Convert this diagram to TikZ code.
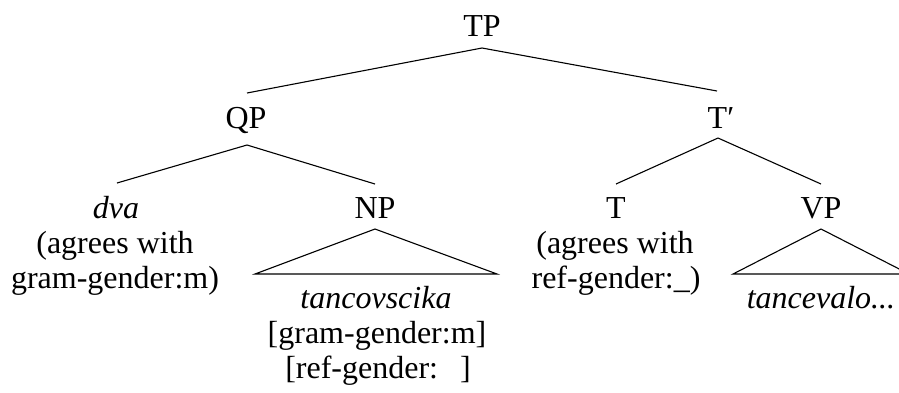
\documentclass[tikz,border=0pt]{standalone}
\usepackage{fontspec}
\setmainfont{Liberation Serif}
\newfontfamily\tnr{Liberation Serif}
\usetikzlibrary{calc}
\begin{document}
\begin{tikzpicture}[x=1pt,y=-1pt,
  lab/.style={font=\tnr\fontsize{32}{35}\selectfont, inner sep=0pt, anchor=base},
  edge/.style={line width=1.1pt}]
\useasboundingbox (0,0) rectangle (899,392);
\clip (0,0) rectangle (899,392);
% level 0-1
\node[lab] (TP) at (482,36) {TP};
\node[lab] (QP) at (246,128) {QP};
\node[lab] (Tbar) at (721,128) {T′};
% level 2
\node[lab] (dva) at (116,218) {\itshape dva};
\node[lab] (dva1) at (115,253) {(agrees with};
\node[lab] (dva2) at (115,288) {gram-gender:m)};
\node[lab] (NP) at (375,218) {NP};
\node[lab] (np1) at (376,308) {\itshape tancovscika};
\node[lab] (np2) at (377,343) {[gram-gender:m]};
\node[lab] (np3) at (378,378) {[ref-gender:\hspace{22pt}]};
\node[lab] (T) at (616,218) {T};
\node[lab] (t1) at (615,253) {(agrees with};
\node[lab] (t2) at (616,288) {ref-gender:\_)};
\node[lab] (VP) at (821,218) {VP};
\node[lab] (vp1) at (821,308) {\itshape tancevalo...};
% branches
\coordinate (TPb) at ($(TP.base)+(0,12)$);
\coordinate (QPb) at ($(QP.base)+(1,17)$);
\coordinate (Tbarb) at ($(Tbar.base)+(-3,10)$);
\draw[edge] (TPb) -- ($(QP.base)+(1,-35)$);
\draw[edge] (TPb) -- ($(Tbar.base)+(-4,-37)$);
\draw[edge] (QPb) -- ($(dva.base)+(1,-35)$);
\draw[edge] (QPb) -- ($(NP.base)+(0,-34)$);
\draw[edge] (Tbarb) -- ($(T.base)+(0,-34)$);
\draw[edge] (Tbarb) -- ($(VP.base)+(0,-34)$);
% triangles
\draw[edge] ($(NP.base)+(0,11)$) -- ($(NP.base)+(-120,56)$) -- ($(NP.base)+(122,56)$) -- cycle;
\draw[edge] ($(VP.base)+(0,11)$) -- ($(VP.base)+(-88,56)$) -- ($(VP.base)+(88,56)$) -- cycle;
\end{tikzpicture}
\end{document}
